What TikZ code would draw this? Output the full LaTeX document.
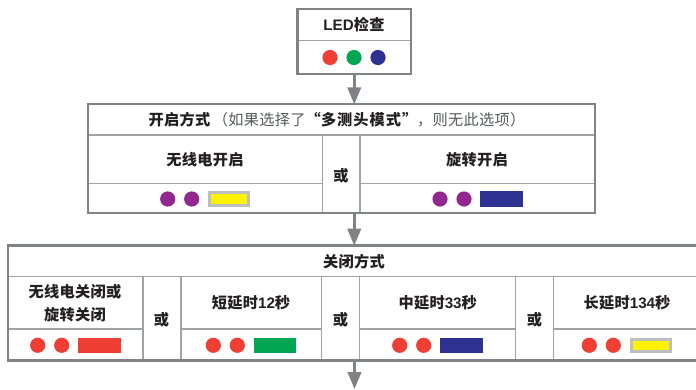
\documentclass[tikz,border=0pt]{standalone}
\usepackage{fontspec}
\usetikzlibrary{arrows.meta}
\setmainfont{Noto Sans CJK SC}[LetterSpace=2]
\newfontfamily\hlat{Liberation Sans}[BoldFont={Liberation Sans Bold}]
\definecolor{frameg}{HTML}{808285}
\definecolor{lineg}{HTML}{A0A2A5}
\definecolor{silverg}{HTML}{BCBEC0}
\definecolor{ink}{HTML}{231F20}
\definecolor{softink}{HTML}{58595B}
\definecolor{dred}{HTML}{EF3E33}
\definecolor{dgreen}{HTML}{00A651}
\definecolor{dblue}{HTML}{2E3192}
\definecolor{dpurple}{HTML}{92278F}
\definecolor{dyellow}{HTML}{FFF200}
\newcommand{\ltn}[1]{{\hlat\bfseries #1}}
\tikzset{
  x=1pt,y=-1pt,
  frame/.style={draw=frameg,line width=2.3pt,outer sep=0pt},
  inner/.style={draw=lineg,line width=1.2pt},
  label/.style={font=\fontsize{15.2}{17}\selectfont\bfseries,text=ink,inner sep=0pt,align=center},
  dot/.style={circle,minimum size=15.2pt,inner sep=0pt,fill=#1},
  bar/.style={rectangle,minimum width=42.5pt,minimum height=15.4pt,inner sep=0pt,fill=#1},
  ybar/.style={rectangle,minimum width=39.5pt,minimum height=12.4pt,inner sep=0pt,fill=dyellow,draw=silverg,line width=3pt},
  flow/.style={draw=frameg,fill=frameg,line width=2.5pt,-{Triangle[length=17pt,width=13.5pt]}},
}
\begin{document}
\begin{tikzpicture}
\useasboundingbox (0,0) rectangle (696,389);
% inner rules
\draw[inner] (298,40.5) -- (411,40.5);
\draw[inner] (88,135) -- (595,135);
\draw[inner] (88,183.3) -- (322.5,183.3);
\draw[inner] (360,183.3) -- (595,183.3);
\draw[inner] (322.5,135) -- (322.5,213);
\draw[inner] (360,135) -- (360,213);
\draw[inner] (8,276.8) -- (696,276.8);
\draw[inner] (8,329) -- (143,329);
\draw[inner] (181,329) -- (321.7,329);
\draw[inner] (359.5,329) -- (515.7,329);
\draw[inner] (553.3,329) -- (696,329);
\foreach \vx in {143,181,321.7,359.5,515.7,553.3} \draw[inner] (\vx,276.8) -- (\vx,360);
% box 1
\node[frame,rectangle,minimum width=113.5pt,minimum height=65.5pt,inner sep=0pt,anchor=north west] (led) at (297.5,8.8) {};
\node[label] (ledt) at (354,25) {\ltn{LED}检查};
\node[dot=dred] (l1) at (330,57.5) {};
\node[dot=dgreen] (l2) at (354,57.5) {};
\node[dot=dblue] (l3) at (378,57.5) {};
% box 2
\node[frame,rectangle,minimum width=507pt,minimum height=109pt,inner sep=0pt,anchor=north west] (open) at (88,104.3) {};
\node[label] (opent) at (337,120) {开启方式\,{\mdseries\color{softink}（如果选择了}“多\kern1pt 测\kern1pt 头\kern1pt 模\kern1pt 式\kern1pt ”{\mdseries\color{softink}，则无此选项）}};
\node[label] (o1) at (205,159.5) {无线电开启};
\node[label] (oor) at (341,175.5) {或};
\node[label] (o2) at (477,159.5) {旋转开启};
\node[dot=dpurple] (o1a) at (167.7,199) {};
\node[dot=dpurple] (o1b) at (191.7,199) {};
\node[ybar] (o1c) at (229,199) {};
\node[dot=dpurple] (o2a) at (440,199) {};
\node[dot=dpurple] (o2b) at (464,199) {};
\node[bar=dblue] (o2c) at (501.5,199) {};
% box 3
\node[frame,rectangle,minimum width=700pt,minimum height=115pt,inner sep=0pt,anchor=north west] (close) at (7.8,245.6) {};
\node[label] (closet) at (354,262) {关闭方式};
\node[label] (c1a) at (75,292) {无线电关闭或};
\node[label] (c1b) at (75,314.5) {旋转关闭};
\node[label] (or1) at (161.5,319.5) {或};
\node[label] (c2) at (251,303) {短延时\ltn{12}秒};
\node[label] (or2) at (340.5,319.5) {或};
\node[label] (c3) at (437.7,303) {中延时\ltn{33}秒};
\node[label] (or3) at (534.5,319.5) {或};
\node[label] (c4) at (627,303) {长延时\ltn{134}秒};
\node[dot=dred] (c1d) at (37.7,345.3) {};
\node[dot=dred] (c1e) at (61.7,345.3) {};
\node[bar=dred] (c1f) at (99.3,345.3) {};
\node[dot=dred] (c2d) at (213.3,345.3) {};
\node[dot=dred] (c2e) at (237.3,345.3) {};
\node[bar=dgreen] (c2f) at (275.2,345.3) {};
\node[dot=dred] (c3d) at (399.7,345.3) {};
\node[dot=dred] (c3e) at (423.7,345.3) {};
\node[bar=dblue] (c3f) at (461.6,345.3) {};
\node[dot=dred] (c4d) at (589.3,345.3) {};
\node[dot=dred] (c4e) at (613.3,345.3) {};
\node[ybar] (c4f) at (651,345.3) {};
% connectors
\coordinate (end) at (354.5,389);
\draw[flow] (led.south) -- (led.south |- open.north);
\draw[flow] (led.south |- open.south) -- (led.south |- close.north);
\draw[flow] (end |- close.south) -- (end);
\end{tikzpicture}
\end{document}
